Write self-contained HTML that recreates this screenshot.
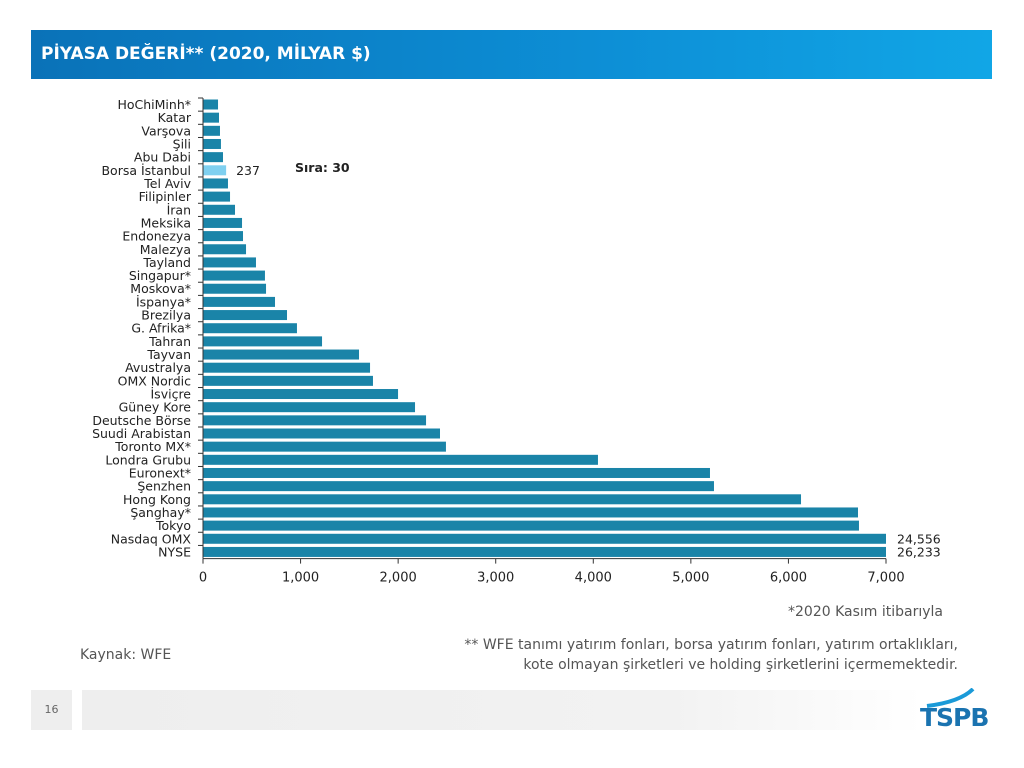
<!DOCTYPE html>
<html><head><meta charset="utf-8"><style>
body{margin:0;width:1024px;height:768px;background:#fff;font-family:"Liberation Sans","DejaVu Sans",sans-serif;position:relative;overflow:hidden}
#hdr{position:absolute;left:31px;top:30px;width:961px;height:49px;background:linear-gradient(90deg,#0a72b8,#0d8fd6 60%,#11a6e6);color:#fff;font:bold 17px "DejaVu Sans",sans-serif;line-height:49px;padding-left:10px;box-sizing:border-box}
.t{position:absolute;font-family:"DejaVu Sans",sans-serif;color:#555}
</style></head><body>
<div id="hdr">PİYASA DEĞERİ** (2020, MİLYAR $)</div>
<svg id="chart" width="1024" height="768" style="position:absolute;left:0;top:0"></svg>
<div class="t" style="left:600px;width:343px;text-align:right;top:604px;font-size:14px">*2020 Kasım itibarıyla</div>
<div class="t" style="left:80px;top:647px;font-size:14px">Kaynak: WFE</div>
<div class="t" style="left:380px;top:635px;width:578px;text-align:right;font-size:14px;line-height:20px">** WFE tanımı yatırım fonları, borsa yatırım fonları, yatırım ortaklıkları,<br>kote olmayan şirketleri ve holding şirketlerini içermemektedir.</div>
<div style="position:absolute;left:31px;top:690px;width:41px;height:40px;background:#eee;font:11px 'DejaVu Sans',sans-serif;color:#666;text-align:center;line-height:40px">16</div>
<div style="position:absolute;left:82px;top:690px;width:840px;height:40px;background:linear-gradient(90deg,#eee,#f2f2f2 70%,#fff)"></div>
<div style="position:absolute;left:920px;top:703px;font:bold 25px 'DejaVu Sans',sans-serif;color:#1a73b0;letter-spacing:-1px">TSPB</div>
<svg width="60" height="20" style="position:absolute;left:925px;top:688px"><path d="M2 18 Q35 14 48 1" stroke="#1a9ad8" stroke-width="4" fill="none"/></svg>
<script>
const categories=["HoChiMinh*","Katar","Varşova","Şili","Abu Dabi","Borsa İstanbul","Tel Aviv","Filipinler","İran","Meksika","Endonezya","Malezya","Tayland","Singapur*","Moskova*","İspanya*","Brezilya","G. Afrika*","Tahran","Tayvan","Avustralya","OMX Nordic","İsviçre","Güney Kore","Deutsche Börse","Suudi Arabistan","Toronto MX*","Londra Grubu","Euronext*","Şenzhen","Hong Kong","Şanghay*","Tokyo","Nasdaq OMX","NYSE"];
const values=[154,164,174,184,205,237,256,277,328,400,410,441,543,635,646,738,861,963,1220,1599,1712,1742,1999,2173,2286,2429,2490,4048,5196,5237,6129,6713,6723,24556,26233];
const ticks=[0,1000,2000,3000,4000,5000,6000,7000];
const maxV=7000;
const svg=document.getElementById('chart');const NS='http://www.w3.org/2000/svg';
const x0=203,x1=886,yTop=98,step=13.16;
const xs=v=>x0+Math.min(v,maxV)/maxV*(x1-x0);
function mk(t,a){const e=document.createElementNS(NS,t);for(const k in a)e.setAttribute(k,a[k]);svg.appendChild(e);return e;}
categories.forEach((c,i)=>{
 const y=yTop+i*step;
 const r=mk('rect',{x:x0,y:y+1.5,width:xs(values[i])-x0,height:10,fill:c==="Borsa İstanbul"?'#7fd0f0':'#1a84a8'});
 
 
 const t=mk('text',{x:191,y:y+11,'text-anchor':'end','font-size':12.5,'font-family':'DejaVu Sans, sans-serif',fill:'#222'});t.textContent=c;
 
 
 mk('line',{x1:198,x2:203,y1:y,y2:y,stroke:'#333'});
 if(values[i]>maxV||c==="Borsa İstanbul"){
  const lb=mk('text',{x:c==="Borsa İstanbul"?xs(values[i])+10:897,y:y+11,'font-size':12.5,'font-family':'DejaVu Sans, sans-serif',fill:'#222'});lb.textContent=values[i].toLocaleString('en-US');
  
  
 }
});
const yb=yTop+categories.length*step;
mk('line',{x1:x0,x2:x0,y1:yTop,y2:yb,stroke:'#333'});
mk('line',{x1:x0,x2:x1,y1:yb,y2:yb,stroke:'#333'});
ticks.forEach(v=>{mk('line',{x1:xs(v),x2:xs(v),y1:yb,y2:yb+5,stroke:'#333'});
 const t=mk('text',{x:xs(v),y:yb+23,'text-anchor':'middle','font-size':13,'font-family':'DejaVu Sans, sans-serif',fill:'#222'});t.textContent=v.toLocaleString('en-US');
 
 });
const s=mk('text',{x:295,y:172,'font-size':12.5,'font-weight':'bold','font-family':'DejaVu Sans, sans-serif',fill:'#222'});s.textContent='Sıra: 30';


</script>
</body></html>
